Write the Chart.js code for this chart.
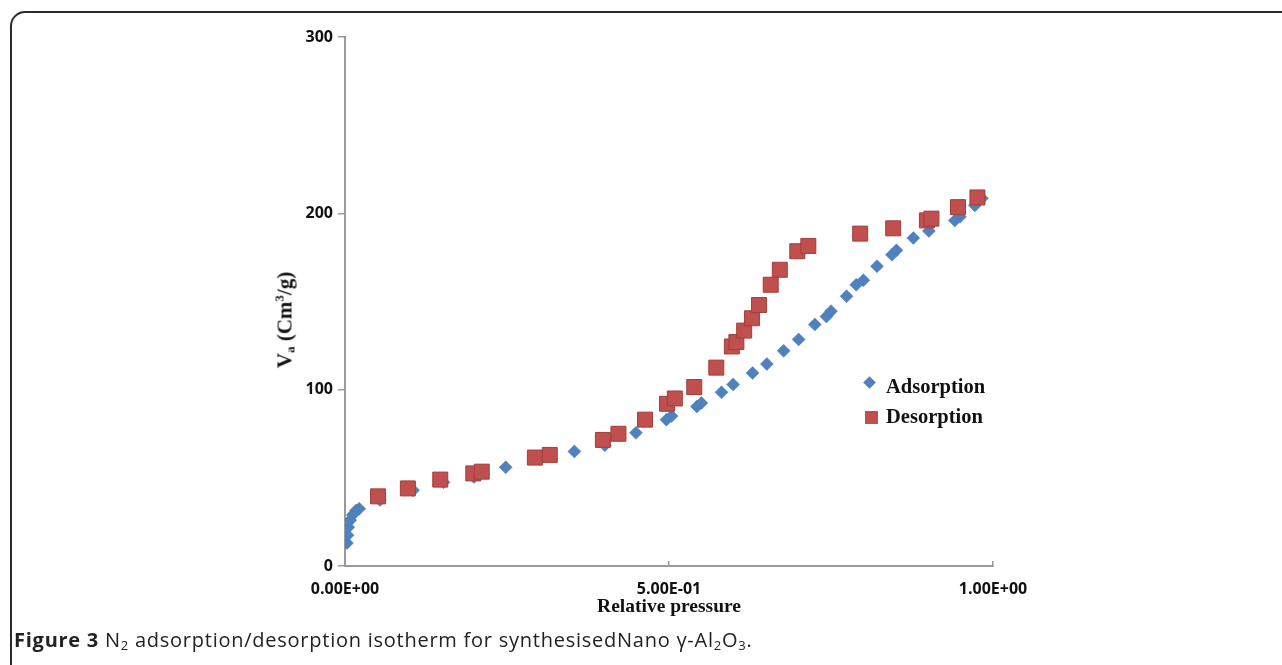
<!DOCTYPE html>
<html>
<head>
<meta charset="utf-8">
<script src="https://cdn.jsdelivr.net/npm/chart.js@4.4.1/dist/chart.umd.min.js"></script>
<style>
  html, body { margin: 0; padding: 0; background: #fff; }
  body { width: 1282px; height: 665px; position: relative; overflow: hidden; }
  #frame { position: absolute; left: 10px; top: 11px; width: 1320px; height: 720px;
           border: 2px solid #2a2a2a; border-radius: 15px; box-sizing: border-box; }
  #plot { position: absolute; left: 0; top: 0; }
  #ytitle { position: absolute; left: 285px; top: 320px; transform: translate(-50%, -50%) rotate(-90deg);
            font: bold 21px "Liberation Serif", serif; color: #111; white-space: nowrap; }
  #ytitle sub { font-size: 13px; vertical-align: -3px; }
  #ytitle sup { font-size: 13px; vertical-align: 8px; }
  .leg { position: absolute; font: bold 20.5px "Liberation Serif", serif; color: #111; white-space: nowrap; }
  #caption { position: absolute; left: 14px; top: 626px; font: 20px "Open Sans", sans-serif; letter-spacing: 0.75px;
             color: #222; white-space: nowrap; }
  #caption sub { font-size: 13px; vertical-align: -3px; }
</style>
</head>
<body>
<div id="frame"></div>
<canvas id="plot" width="1282" height="665"></canvas>
<div id="ytitle">V<sub>a</sub> (Cm<sup>3</sup>/g)</div>
<div id="legend"></div>
<div id="caption"><b>Figure 3</b> N<sub>2</sub> adsorption/desorption isotherm for synthesisedNano γ-Al<sub>2</sub>O<sub>3</sub>.</div>
<script>
// relative pressure / volume
const adsP = [0.003, 0.004, 0.005, 0.008, 0.012, 0.017, 0.022, 0.054, 0.105, 0.152, 0.199, 0.248, 0.301, 0.354,
  0.401, 0.449, 0.496, 0.504, 0.543, 0.550, 0.581, 0.599, 0.629, 0.651, 0.677, 0.700, 0.725, 0.743, 0.750,
  0.774, 0.789, 0.800, 0.821, 0.844, 0.851, 0.877, 0.901, 0.941, 0.949, 0.972, 0.983];
const adsV = [13, 17.5, 22, 26, 29, 31.5, 32.5, 37.5, 43, 47.5, 50.5, 56, 60.5, 65,
  68.5, 75.5, 83, 85, 90.5, 92.5, 98.5, 103, 109.5, 114.5, 122, 128.5, 137, 141.5, 144.5,
  153, 159.5, 162, 170, 176.5, 179, 186, 190, 196, 198, 204.5, 208.5];

const desP = [0.051, 0.097, 0.147, 0.198, 0.211, 0.293, 0.316, 0.398, 0.422, 0.463, 0.497, 0.509, 0.539, 0.573,
  0.597, 0.604, 0.616, 0.628, 0.639, 0.657, 0.671, 0.698, 0.715, 0.795, 0.846, 0.898, 0.905, 0.946, 0.976];
const desV = [39.5, 44, 49, 52.5, 53.5, 61.5, 63, 71.5, 75, 83, 92, 95, 101.5, 112.5,
  124.5, 127, 133.5, 140.5, 148, 159.5, 168, 178.5, 181.5, 188.5, 191.5, 196, 197, 203.5, 209];

const xTicks = [0, 0.5, 1];
const xTickLabels = ['0.00E+00', '5.00E-01', '1.00E+00'];
const yTicks = [0, 100, 200, 300];
const yTickLabels = ['0', '100', '200', '300'];
const seriesNames = ['Adsorption', 'Desorption'];

const toPts = (xs, ys) => xs.map((x, i) => ({ x: x, y: ys[i] }));

const axisGrey = '#9a9a9a';
const tickFont = { family: '"Open Sans", sans-serif', size: 16, weight: 'bold' };

const ctx = document.getElementById('plot').getContext('2d');
const chart = new Chart(ctx, {
  type: 'scatter',
  data: {
    datasets: [
      {
        label: seriesNames[0],
        data: toPts(adsP, adsV),
        pointStyle: 'rectRot',
        pointRadius: 6.5,
        backgroundColor: '#4F81BD',
        borderColor: '#4F81BD',
        borderWidth: 0.5,
        order: 1
      },
      {
        label: seriesNames[1],
        data: toPts(desP, desV),
        pointStyle: 'rect',
        pointRadius: 10.6,
        backgroundColor: '#C0504D',
        borderColor: '#a13f3c',
        borderWidth: 1,
        order: 0
      }
    ]
  },
  options: {
    responsive: false,
    animation: false,
    layout: { padding: { left: 200, right: 289, top: 37, bottom: 39 } },
    plugins: { legend: { display: false }, tooltip: { enabled: false } },
    scales: {
      x: {
        type: 'linear',
        min: 0, max: 1,
        afterBuildTicks: s => { s.ticks = xTicks.map(v => ({ value: v })); },
        afterFit: s => { s.height = 60; s.paddingLeft = 0; s.paddingRight = 0; },
        ticks: {
          font: tickFont, color: '#111', padding: 19, maxRotation: 0,
          callback: (v) => xTickLabels[xTicks.indexOf(v)]
        },
        grid: { drawOnChartArea: false, drawTicks: true, tickLength: -5, color: axisGrey, lineWidth: 1.5 },
        border: { color: axisGrey, width: 2 },
        title: {
          display: true, text: 'Relative pressure', color: '#111',
          font: { family: '"Liberation Serif", serif', size: 19.5, weight: 'bold' },
          padding: { top: 0, bottom: 7 }
        }
      },
      y: {
        min: 0, max: 300,
        afterBuildTicks: s => { s.ticks = yTicks.map(v => ({ value: v })); },
        afterFit: s => { s.width = 145; s.paddingTop = 0; s.paddingBottom = 0; },
        ticks: {
          font: tickFont, color: '#111', padding: 5,
          callback: (v) => yTickLabels[yTicks.indexOf(v)]
        },
        grid: { drawOnChartArea: false, drawTicks: true, tickLength: 7, color: axisGrey, lineWidth: 1.5 },
        border: { color: axisGrey, width: 2 }
      }
    }
  }
});

// legend placed inside the plot like the original
const legend = document.getElementById('legend');
const legendMarks = [
  { left: 865, top: 378, w: 9, h: 9, color: '#4F81BD', rot: 45 },
  { left: 865, top: 411, w: 13, h: 13, color: '#C0504D', rot: 0 }
];
const legendText = [{ left: 886, top: 375 }, { left: 886, top: 405 }];
seriesNames.forEach((name, i) => {
  const m = legendMarks[i];
  const mark = document.createElement('div');
  mark.style.cssText = `position:absolute;left:${m.left}px;top:${m.top}px;width:${m.w}px;height:${m.h}px;` +
    `background:${m.color};transform:rotate(${m.rot}deg);`;
  legend.appendChild(mark);
  const t = document.createElement('div');
  t.className = 'leg';
  t.style.left = legendText[i].left + 'px';
  t.style.top = legendText[i].top + 'px';
  t.textContent = name;
  legend.appendChild(t);
});
</script>
</body>
</html>
